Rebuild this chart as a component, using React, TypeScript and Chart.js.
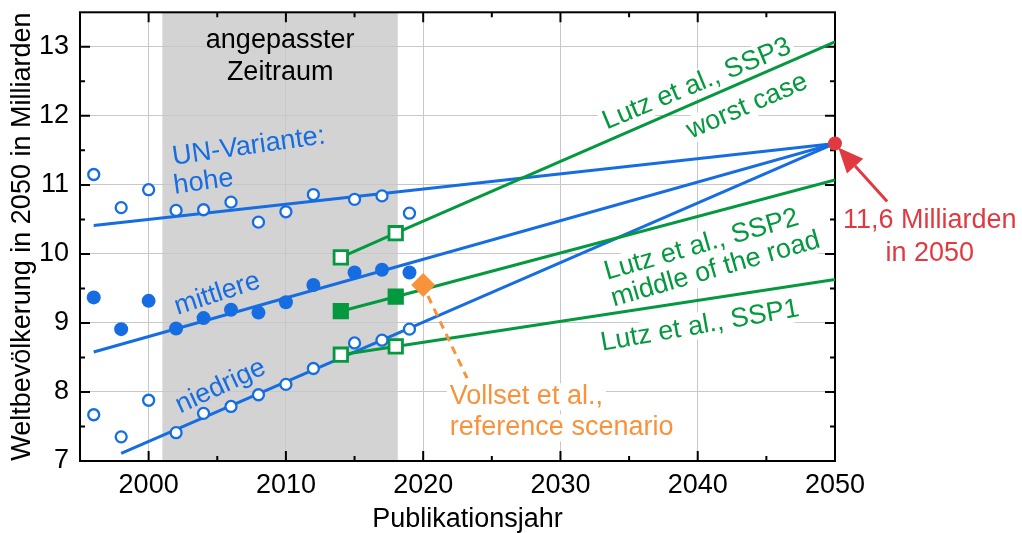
import React, { useEffect, useRef } from 'react';
import { Chart, registerables } from 'chart.js';

Chart.register(...registerables);

// ---------- data ----------
const unYears = [1996, 1998, 2000, 2002, 2004, 2006, 2008, 2010, 2012, 2015, 2017, 2019];
const unHigh = [11.15, 10.67, 10.93, 10.63, 10.64, 10.75, 10.46, 10.61, 10.86, 10.79, 10.84, 10.59];
const unMedium = [9.37, 8.91, 9.32, 8.92, 9.07, 9.19, 9.15, 9.3, 9.55, 9.73, 9.77, 9.73];
const unLow = [7.67, 7.35, 7.88, 7.41, 7.69, 7.79, 7.96, 8.11, 8.34, 8.71, 8.75, 8.91];

const trendHighYears = [1996, 2050];
const trendHigh = [10.41, 11.6];
const trendMediumYears = [1996, 2050];
const trendMedium = [8.58, 11.6];
const trendLowYears = [1998, 2050];
const trendLow = [7.11, 11.6];

const lutzYears = [2014, 2018];
const lutzLineYears = [2014, 2018, 2050];
const ssp3 = [9.95, 10.3];
const ssp3Line = [9.95, 10.3, 13.07];
const ssp2 = [9.17, 9.38];
const ssp2Line = [9.17, 9.38, 11.07];
const ssp1 = [8.54, 8.66];
const ssp1Line = [8.54, 8.66, 9.63];

const vollsetYears = [2020];
const vollset = [9.55];
const vollsetLeaderYears = [2020.35, 2023.2];
const vollsetLeader = [9.39, 8.2];

const targetYears = [2050];
const target = [11.6];
const arrowYears = [2053.8, 2050.24];
const arrowValues = [10.76, 11.54];

const shadeYears = [2001, 2018.15];

const xTicks = [2000, 2010, 2020, 2030, 2040, 2050];
const xMinorTicks = [2005, 2015, 2025, 2035, 2045];
const yTicks = [7, 8, 9, 10, 11, 12, 13];
const yMinorTicks = [7.5, 8.5, 9.5, 10.5, 11.5, 12.5];

// ---------- styles ----------
const BLUE = '#166de2';
const GREEN = '#05993f';
const ORANGE = '#f8923b';
const RED = '#e03a40';
const GRID = '#c8c8c8';
const SHADE = '#d3d3d3';

let FONT = '"Liberation Sans Narrow", "Arial Narrow", sans-serif';
let FS = 33;

function pickFont() {
  try {
    const c = document.createElement('canvas').getContext('2d') as CanvasRenderingContext2D;
    const s = 'Publikationsjahr 2050';
    c.font = '33px monospace';
    const a = c.measureText(s).width;
    c.font = '33px "Liberation Sans Narrow", monospace';
    const b = c.measureText(s).width;
    if (Math.abs(a - b) < 0.5) {
      FONT = '"Liberation Sans", Arial, sans-serif';
      FS = 27;
    }
  } catch (e) {
    /* keep default */
  }
}

type Label = {
  text: string;
  x: number;
  y: number;
  rot: number;
  color: string;
  align: CanvasTextAlign;
  baseline: CanvasTextBaseline;
  bg?: string;
};

const labels: Label[] = [
  { text: 'angepasster', x: 2009.58, y: 12.98, rot: 0, color: '#000', align: 'center', baseline: 'alphabetic' },
  { text: 'Zeitraum', x: 2009.58, y: 12.52, rot: 0, color: '#000', align: 'center', baseline: 'alphabetic' },
  { text: 'UN-Variante:', x: 2007.3, y: 11.555, rot: -8, color: BLUE, align: 'center', baseline: 'middle' },
  { text: 'hohe', x: 2004.0, y: 11.04, rot: -8, color: BLUE, align: 'center', baseline: 'middle' },
  { text: 'mittlere', x: 2005.0, y: 9.42, rot: -18, color: BLUE, align: 'center', baseline: 'middle' },
  { text: 'niedrige', x: 2005.25, y: 8.08, rot: -25, color: BLUE, align: 'center', baseline: 'middle' },
  { text: 'Lutz et al., SSP3', x: 2039.94, y: 12.46, rot: -22.5, color: GREEN, align: 'center', baseline: 'middle', bg: '#fff' },
  { text: 'worst case', x: 2043.6, y: 12.14, rot: -23.5, color: GREEN, align: 'center', baseline: 'middle', bg: '#fff' },
  { text: 'Lutz et al., SSP2', x: 2040.28, y: 10.13, rot: -16, color: GREEN, align: 'center', baseline: 'middle', bg: '#fff' },
  { text: 'middle of the road', x: 2041.3, y: 9.775, rot: -16, color: GREEN, align: 'center', baseline: 'middle', bg: '#fff' },
  { text: 'Lutz et al., SSP1', x: 2040.16, y: 8.956, rot: -10, color: GREEN, align: 'center', baseline: 'middle', bg: '#fff' },
  { text: 'Vollset et al.,', x: 2021.94, y: 7.82, rot: 0, color: ORANGE, align: 'left', baseline: 'alphabetic', bg: '#fff' },
  { text: 'reference scenario', x: 2021.94, y: 7.37, rot: 0, color: ORANGE, align: 'left', baseline: 'alphabetic', bg: '#fff' },
  { text: '11,6 Milliarden', x: 2056.9, y: 10.37, rot: 0, color: RED, align: 'center', baseline: 'alphabetic' },
  { text: 'in 2050', x: 2056.9, y: 9.9, rot: 0, color: RED, align: 'center', baseline: 'alphabetic' },
];

const xTitle = 'Publikationsjahr';
const yTitle = 'Weltbevölkerung in 2050 in Milliarden';

const pts = (xs: number[], ys: number[]) => xs.map((x, i) => ({ x, y: ys[i] }));

function drawLabel(chart: any, ctx: CanvasRenderingContext2D, a: Label) {
  const px = chart.scales.x.getPixelForValue(a.x);
  const py = chart.scales.y.getPixelForValue(a.y);
  ctx.save();
  ctx.translate(px, py);
  ctx.rotate((a.rot * Math.PI) / 180);
  ctx.font = `${FS}px ${FONT}`;
  ctx.textAlign = a.align;
  ctx.textBaseline = a.baseline;
  if (a.bg) {
    const w = ctx.measureText(a.text).width;
    const x0 = a.align === 'center' ? -w / 2 : a.align === 'left' ? 0 : -w;
    const top = a.baseline === 'middle' ? -FS * 0.52 : -FS * 0.78;
    const h = FS * 1.0;
    ctx.fillStyle = a.bg;
    ctx.fillRect(x0 - 3, top, w + 6, h);
  }
  ctx.fillStyle = a.color;
  ctx.fillText(a.text, 0, 0);
  ctx.restore();
}

const decorPlugin = {
  id: 'decor',
  beforeDraw(chart: any) {
    const { ctx, chartArea } = chart;
    ctx.save();
    ctx.fillStyle = '#fff';
    ctx.fillRect(0, 0, chart.width, chart.height);
    const x0 = chart.scales.x.getPixelForValue(shadeYears[0]);
    const x1 = chart.scales.x.getPixelForValue(shadeYears[1]);
    ctx.fillStyle = SHADE;
    ctx.fillRect(x0, chartArea.top, x1 - x0, chartArea.bottom - chartArea.top);
    ctx.restore();
  },
  beforeDatasetsDraw(chart: any) {
    const { ctx, chartArea } = chart;
    const { left, right, top, bottom } = chartArea;
    labels.forEach((a) => drawLabel(chart, ctx, a));
    ctx.save();
    ctx.strokeStyle = '#000';
    ctx.lineWidth = 2;
    ctx.strokeRect(left, top, right - left, bottom - top);
    const xs = chart.scales.x;
    const ys = chart.scales.y;
    const tick = (vals: number[], len: number) => {
      ctx.beginPath();
      vals.forEach((v) => {
        const p = xs.getPixelForValue(v);
        ctx.moveTo(p, bottom);
        ctx.lineTo(p, bottom - len);
        ctx.moveTo(p, top);
        ctx.lineTo(p, top + len);
      });
      ctx.stroke();
    };
    const ytick = (vals: number[], len: number) => {
      ctx.beginPath();
      vals.forEach((v) => {
        const p = ys.getPixelForValue(v);
        ctx.moveTo(left, p);
        ctx.lineTo(left + len, p);
        ctx.moveTo(right, p);
        ctx.lineTo(right - len, p);
      });
      ctx.stroke();
    };
    tick(xTicks, 10);
    tick(xMinorTicks, 5);
    ytick(yTicks, 10);
    ytick(yMinorTicks, 5);
    // x axis title
    ctx.fillStyle = '#000';
    ctx.font = `${FS}px ${FONT}`;
    ctx.textAlign = 'center';
    ctx.textBaseline = 'alphabetic';
    ctx.fillText(xTitle, (left + right) / 2 + 10, chart.height - 6);
    ctx.restore();
  },
  afterDatasetsDraw(chart: any) {
    const { ctx } = chart;
    const xs = chart.scales.x;
    const ys = chart.scales.y;
    const tx = xs.getPixelForValue(arrowYears[0]);
    const ty = ys.getPixelForValue(arrowValues[0]);
    const hx = xs.getPixelForValue(arrowYears[1]);
    const hy = ys.getPixelForValue(arrowValues[1]);
    const ang = Math.atan2(hy - ty, hx - tx);
    const headLen = 25;
    const headW = 11;
    const bx = hx - headLen * Math.cos(ang);
    const by = hy - headLen * Math.sin(ang);
    ctx.save();
    ctx.strokeStyle = RED;
    ctx.fillStyle = RED;
    ctx.lineWidth = 3;
    ctx.beginPath();
    ctx.moveTo(tx, ty);
    ctx.lineTo(bx, by);
    ctx.stroke();
    ctx.beginPath();
    ctx.moveTo(hx, hy);
    ctx.lineTo(bx + headW * Math.sin(ang), by - headW * Math.cos(ang));
    ctx.lineTo(bx - headW * Math.sin(ang), by + headW * Math.cos(ang));
    ctx.closePath();
    ctx.fill();
    ctx.restore();
  },
};

const lineDs = (data: any[], color: string, extra: any = {}) => ({
  data,
  showLine: true,
  borderColor: color,
  borderWidth: 3,
  pointRadius: 0,
  fill: false,
  order: 10,
  ...extra,
});

export default function App() {
  const ref = useRef<HTMLCanvasElement>(null);
  useEffect(() => {
    pickFont();
    const tickFont = { family: FONT, size: FS };
    const chart = new Chart(ref.current as HTMLCanvasElement, {
      type: 'scatter',
      data: {
        datasets: [
          lineDs(pts(trendHighYears, trendHigh), BLUE),
          lineDs(pts(trendMediumYears, trendMedium), BLUE),
          lineDs(pts(trendLowYears, trendLow), BLUE),
          lineDs(pts(lutzLineYears, ssp3Line), GREEN, { order: 9 }),
          lineDs(pts(lutzLineYears, ssp2Line), GREEN, { order: 9 }),
          lineDs(pts(lutzLineYears, ssp1Line), GREEN, { order: 9 }),
          lineDs(pts(vollsetLeaderYears, vollsetLeader), ORANGE, { borderDash: [8, 6], order: 8 }),
          {
            data: pts(unYears, unHigh),
            pointStyle: 'circle',
            pointRadius: 5.5,
            pointBackgroundColor: '#fff',
            pointBorderColor: BLUE,
            pointBorderWidth: 2.3,
            order: 1,
            clip: false,
          },
          {
            data: pts(unYears, unMedium),
            pointStyle: 'circle',
            pointRadius: 7,
            pointBackgroundColor: BLUE,
            pointBorderColor: BLUE,
            pointBorderWidth: 0,
            order: 1,
            clip: false,
          },
          {
            data: pts(unYears, unLow),
            pointStyle: 'circle',
            pointRadius: 5.5,
            pointBackgroundColor: '#fff',
            pointBorderColor: BLUE,
            pointBorderWidth: 2.3,
            order: 1,
            clip: false,
          },
          {
            data: pts(lutzYears, ssp3),
            pointStyle: 'rect',
            pointRadius: 9.5,
            pointBackgroundColor: '#fff',
            pointBorderColor: GREEN,
            pointBorderWidth: 2.8,
            order: 0,
          },
          {
            data: pts(lutzYears, ssp2),
            pointStyle: 'rect',
            pointRadius: 11.5,
            pointBackgroundColor: GREEN,
            pointBorderColor: GREEN,
            pointBorderWidth: 0,
            order: 0,
          },
          {
            data: pts(lutzYears, ssp1),
            pointStyle: 'rect',
            pointRadius: 9.5,
            pointBackgroundColor: '#fff',
            pointBorderColor: GREEN,
            pointBorderWidth: 2.8,
            order: 0,
          },
          {
            data: pts(vollsetYears, vollset),
            pointStyle: 'rectRot',
            pointRadius: 12,
            pointBackgroundColor: ORANGE,
            pointBorderColor: ORANGE,
            pointBorderWidth: 0,
            order: 0,
          },
          {
            data: pts(targetYears, target),
            pointStyle: 'circle',
            pointRadius: 7,
            pointBackgroundColor: RED,
            pointBorderColor: RED,
            pointBorderWidth: 0,
            order: 0,
            clip: false,
          },
        ] as any,
      },
      options: {
        animation: false,
        responsive: false,
        maintainAspectRatio: false,
        events: [],
        layout: { padding: { left: 0, top: 7, right: 187, bottom: 0 } },
        plugins: { legend: { display: false }, tooltip: { enabled: false } },
        scales: {
          x: {
            type: 'linear',
            min: 1995,
            max: 2050,
            afterBuildTicks: (s: any) => {
              s.ticks = xTicks.map((v) => ({ value: v }));
            },
            afterFit: (s: any) => {
              s.height = 72;
              s.paddingLeft = 0;
              s.paddingRight = 0;
            },
            grid: { color: GRID, lineWidth: 1, drawTicks: false },
            border: { display: false },
            ticks: {
              color: '#000',
              font: tickFont,
              padding: 8,
              maxRotation: 0,
              autoSkip: false,
              callback: (v: any) => String(v),
            },
            title: { display: false },
          },
          y: {
            type: 'linear',
            min: 7,
            max: 13.5,
            afterBuildTicks: (s: any) => {
              s.ticks = yTicks.map((v) => ({ value: v }));
            },
            afterFit: (s: any) => {
              s.width = 80;
              s.paddingTop = 0;
              s.paddingBottom = 0;
            },
            grid: { color: GRID, lineWidth: 1, drawTicks: false },
            border: { display: false },
            ticks: {
              color: '#000',
              font: tickFont,
              padding: 11,
              autoSkip: false,
              callback: (v: any) => String(v),
            },
            title: {
              display: true,
              text: yTitle,
              color: '#000',
              font: tickFont,
              padding: { top: 6, bottom: 0 },
            },
          },
        },
      } as any,
      plugins: [decorPlugin],
    });
    return () => chart.destroy();
  }, []);
  return (
    <div style={{ position: 'absolute', left: 0, top: 0, width: 1022, height: 533 }}>
      <canvas ref={ref} width={1022} height={533} style={{ display: 'block', width: 1022, height: 533 }} />
    </div>
  );
}
